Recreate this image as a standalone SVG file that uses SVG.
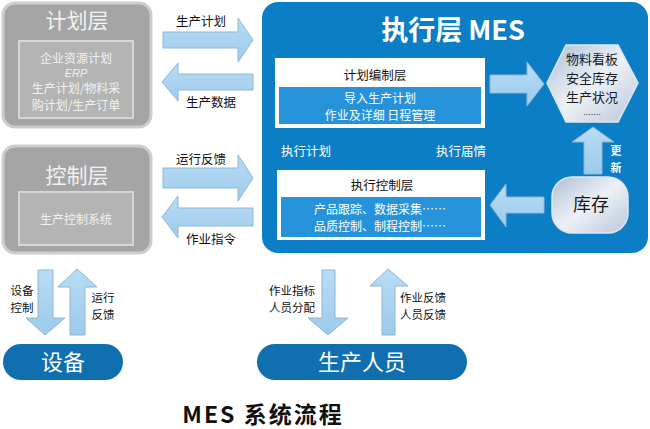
<svg xmlns="http://www.w3.org/2000/svg" width="650" height="429" viewBox="0 0 650 429">
<defs>
<linearGradient id="arrowGrad" x1="0" y1="0" x2="0" y2="1">
<stop offset="0" stop-color="#b9dcf4"/>
<stop offset="1" stop-color="#9ccbec"/>
</linearGradient>
<linearGradient id="silver" x1="0" y1="0" x2="1" y2="1">
<stop offset="0" stop-color="#aebfd6"/>
<stop offset="0.5" stop-color="#eef2f7"/>
<stop offset="1" stop-color="#b8c6da"/>
</linearGradient>
<style>
.cn{font-family:"Noto Sans CJK SC","Noto Sans",sans-serif;}
.arrow{fill:url(#arrowGrad);stroke:#8fb6d6;stroke-width:1;}
.grayOuter{fill:#a5a5a5;stroke:#cdcdcd;stroke-width:3;}
.grayInner{fill:#b4b4b4;stroke:#d6d6d6;stroke-width:2;}
.grayTitle{fill:#f2f2f2;font-size:21px;}
.grayText{fill:#f2f2f2;font-size:12px;}
.lbl{fill:#111;font-size:12.5px;}
.slbl{fill:#111;font-size:11.5px;}
.wlbl{fill:#fff;font-size:12.5px;}
.pill{fill:#106fae;}
</style>
</defs>
<rect width="650" height="429" fill="#ffffff"/>

<g id="plan-layer">
<rect class="grayOuter" x="3" y="3" width="148" height="124" rx="12"/>
<rect class="grayInner" x="19" y="41" width="114" height="77"/>
<text class="cn grayTitle" x="77" y="28" text-anchor="middle">计划层</text>
<text class="cn grayText" x="76" y="63" text-anchor="middle">企业资源计划</text>
<text x="76" y="77" text-anchor="middle" fill="#f2f2f2" font-style="italic" font-family="Liberation Sans,sans-serif" font-size="11">ERP</text>
<text class="cn grayText" x="76" y="93" text-anchor="middle">生产计划/物料采</text>
<text class="cn grayText" x="76" y="109.5" text-anchor="middle">购计划/生产订单</text>
</g>

<g id="control-layer">
<rect class="grayOuter" x="3" y="146" width="148" height="107" rx="12"/>
<rect class="grayInner" x="19" y="192" width="114" height="53"/>
<text class="cn grayTitle" x="77" y="183" text-anchor="middle">控制层</text>
<text class="cn grayText" x="76" y="224" text-anchor="middle">生产控制系统</text>
</g>

<g id="mes-layer">
<rect x="262" y="2" width="386" height="251" rx="16" fill="#0b7ec6"/>
<text class="cn" x="453" y="40" text-anchor="middle" fill="#fff" font-size="27" font-weight="bold">执行层 MES</text>
<text class="cn wlbl" x="306" y="156" text-anchor="middle">执行计划</text>
<text class="cn wlbl" x="461" y="156" text-anchor="middle">执行届情</text>
</g>

<g id="plan-compile">
<rect x="275" y="58" width="210" height="70" fill="#ffffff"/>
<rect x="279" y="87" width="202" height="37" fill="#2592da"/>
<text class="cn lbl" x="375" y="80" text-anchor="middle">计划编制层</text>
<text class="cn" x="380" y="103" text-anchor="middle" font-size="12" fill="#fff">导入生产计划</text>
<text class="cn" x="380" y="120" text-anchor="middle" font-size="12" fill="#fff">作业及详细 日程管理</text>
</g>

<g id="exec-control">
<rect x="277" y="170" width="208" height="70" fill="#ffffff"/>
<rect x="281" y="197" width="200" height="40" fill="#2592da"/>
<text class="cn lbl" x="382" y="190" text-anchor="middle">执行控制层</text>
<text class="cn" x="380" y="213.5" text-anchor="middle" font-size="12" fill="#fff">产品跟踪、数据采集……</text>
<text class="cn" x="380" y="231" text-anchor="middle" font-size="12" fill="#fff">品质控制、制程控制……</text>
</g>

<g id="status-hex">
<polygon points="547,83 566,45 618,45 638,83 618,122 566,122" fill="url(#silver)" stroke="#dfe7f1" stroke-width="1.5"/>
<text class="cn" x="592" y="64" text-anchor="middle" font-size="13" fill="#1a1a1a">物料看板</text>
<text class="cn" x="592" y="83" text-anchor="middle" font-size="13" fill="#1a1a1a">安全库存</text>
<text class="cn" x="592" y="102" text-anchor="middle" font-size="13" fill="#1a1a1a">生产状况</text>
<text x="592" y="114.5" text-anchor="middle" font-size="9" font-family="Liberation Sans,sans-serif" fill="#1a1a1a">.......</text>
</g>

<g id="inventory">
<rect x="552" y="177" width="76" height="56" rx="20" fill="url(#silver)" stroke="#dfe7f1" stroke-width="1.5"/>
<text class="cn" x="591" y="211" text-anchor="middle" font-size="18" fill="#1a1a1a">库存</text>
</g>

<g id="equipment">
<rect x="3" y="344" width="120" height="36" rx="18" class="pill"/>
<text class="cn" x="63" y="370" text-anchor="middle" font-size="22" fill="#fff">设备</text>
</g>

<g id="personnel">
<rect x="257" y="344" width="210" height="36" rx="18" class="pill"/>
<text class="cn" x="362" y="370" text-anchor="middle" font-size="22" fill="#fff">生产人员</text>
</g>

<g id="connectors">
<path class="arrow" d="M163,32 H238 V18 L253,40 L238,62 V48 H163 Z"/>
<path class="arrow" d="M253,74 H178 V63 L162,82 L178,101 V90 H253 Z"/>
<path class="arrow" d="M163,168 H238 V155 L253,178 L238,201 V188 H163 Z"/>
<path class="arrow" d="M253,208 H178 V196 L162,217 L178,238 V226 H253 Z"/>
<path class="arrow" d="M490,75 H527 V62 L544,84 L527,106 V93 H490 Z" stroke="none"/>
<path class="arrow" d="M544,197 H506 V184 L490,205 L506,227 V213 H544 Z" stroke="none"/>
<path class="arrow" d="M584,174 V142 H572 L593,127 L614,142 H602 V174 Z" stroke="none"/>
<path class="arrow" d="M38,270 H53 V318 H65 L45,335 L26,318 H38 Z"/>
<path class="arrow" d="M70,335 V287 H58 L77,269 L97,287 H85 V335 Z"/>
<path class="arrow" d="M322,270 H335 V318 H348 L328,335 L308,318 H322 Z"/>
<path class="arrow" d="M382,335 V286 H370 L388,269 L408,286 H395 V335 Z"/>
<text class="cn lbl" x="201" y="26" text-anchor="middle">生产计划</text>
<text class="cn lbl" x="211" y="107" text-anchor="middle">生产数据</text>
<text class="cn lbl" x="201" y="164" text-anchor="middle">运行反馈</text>
<text class="cn lbl" x="211" y="244" text-anchor="middle">作业指令</text>
<text class="cn" x="616" y="155" text-anchor="middle" font-size="11" font-weight="bold" fill="#fff">更</text>
<text class="cn" x="616" y="171.5" text-anchor="middle" font-size="11" font-weight="bold" fill="#fff">新</text>
<text class="cn slbl" x="22" y="295" text-anchor="middle">设备</text>
<text class="cn slbl" x="22" y="312" text-anchor="middle">控制</text>
<text class="cn slbl" x="103" y="302" text-anchor="middle">运行</text>
<text class="cn slbl" x="103" y="319" text-anchor="middle">反馈</text>
<text class="cn slbl" x="292" y="295" text-anchor="middle">作业指标</text>
<text class="cn slbl" x="292" y="312" text-anchor="middle">人员分配</text>
<text class="cn slbl" x="423" y="302" text-anchor="middle">作业反馈</text>
<text class="cn slbl" x="423" y="319" text-anchor="middle">人员反馈</text>
</g>

<text class="cn" x="263" y="423" text-anchor="middle" font-size="23" font-weight="bold" fill="#111" letter-spacing="2">MES 系统流程</text>
</svg>
